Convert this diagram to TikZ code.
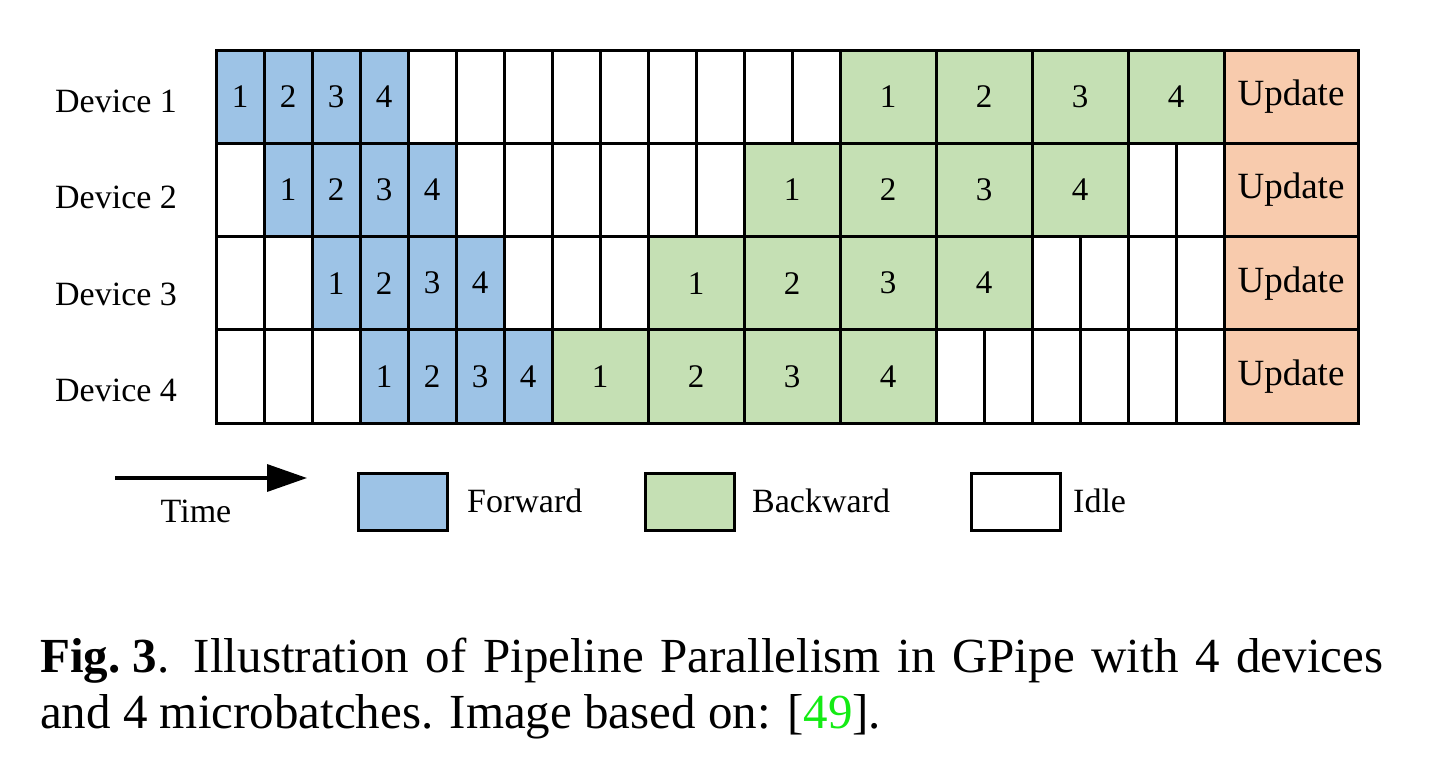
\documentclass[tikz,border=0pt]{standalone}
\usepackage{fontspec}
\setmainfont{Liberation Serif}
\usetikzlibrary{arrows.meta}
\definecolor{fwd}{RGB}{157,195,230}
\definecolor{bwd}{RGB}{197,224,180}
\definecolor{upd}{RGB}{248,203,173}
\definecolor{refgreen}{RGB}{20,235,20}
\begin{document}
\begin{tikzpicture}[x=1pt,y=-1pt,
  cellbox/.style={draw,line width=3pt,inner sep=0pt,outer sep=0pt,minimum height=93.25pt,font=\fontsize{33}{38}\selectfont},
  fcell/.style={cellbox,fill=fwd,minimum width=48pt},
  bcell/.style={cellbox,fill=bwd,minimum width=96pt},
  icell/.style={cellbox,fill=white,minimum width=48pt},
  ucell/.style={cellbox,fill=upd,minimum width=134pt,font=\fontsize{37}{42}\selectfont},
  devlabel/.style={anchor=base west,inner sep=0pt,font=\fontsize{34}{40}\selectfont},
  legbox/.style={draw,line width=3pt,inner sep=0pt,minimum width=89pt,minimum height=57pt},
  legtext/.style={anchor=base west,inner sep=0pt,font=\fontsize{34}{40}\selectfont},
  captext/.style={anchor=base west,inner sep=0pt,font=\fontsize{49}{56}\selectfont}]
\useasboundingbox (0,0) rectangle (1437,779);

% idle cells
\foreach \r/\list in {1/{4,5,6,7,8,9,10,11,12},2/{0,5,6,7,8,9,10,19,20},3/{0,1,6,7,8,17,18,19,20},4/{0,1,2,15,16,17,18,19,20}}{
  \foreach \u in \list
    \node[icell] (i\r-\u) at ({240+48*\u},{96.625+93.25*(\r-1)}) {};
}
% forward cells
\foreach \r/\s in {1/0,2/1,3/2,4/3}{
  \foreach \j in {1,2,3,4}
    \node[fcell] (f\r-\j) at ({240+48*(\s+\j-1)},{96.625+93.25*(\r-1)}) {\j};
}
% backward cells
\foreach \r/\s in {1/13,2/11,3/9,4/7}{
  \foreach \j in {1,2,3,4}
    \node[bcell] (b\r-\j) at ({264+48*(\s+2*\j-2)},{96.625+93.25*(\r-1)}) {\j};
}
% update cells
\foreach \r in {1,2,3,4}
  \node[ucell] (u\r) at (1291,{96.625+93.25*(\r-1)}) {Update};

% device labels
\node[devlabel] (d1) at (55,112.7) {Device 1};
\node[devlabel] (d2) at (55,208.3) {Device 2};
\node[devlabel] (d3) at (55,305) {Device 3};
\node[devlabel] (d4) at (55,401.7) {Device 4};

% legend
\coordinate (t0) at (115,478);
\coordinate (t1) at (307,478);
\draw[line width=3.5pt,-{Triangle[length=40pt,width=27pt]}] (t0) -- (t1);
\node[legtext,anchor=base] (time) at (196,522) {Time};
\node[legbox,fill=fwd] (lf) at (403,502) {};
\node[legtext] (lft) at (467,512) {Forward};
\node[legbox,fill=bwd] (lb) at (690,502) {};
\node[legtext] (lbt) at (752,512) {Backward};
\node[legbox,fill=white] (li) at (1016,502) {};
\node[legtext] (lit) at (1073,512) {Idle};

% caption
\node[captext] (cap1) at (40,672) {\makebox[1343pt][s]{\textbf{Fig.\kern0.25em3}.\kern0.5em Illustration of Pipeline Parallelism in GPipe with 4 devices}};
\node[captext] (cap2) at (40,728) {and 4 microbatches. Image based on: [\textcolor{refgreen}{49}].};
\end{tikzpicture}
\end{document}
